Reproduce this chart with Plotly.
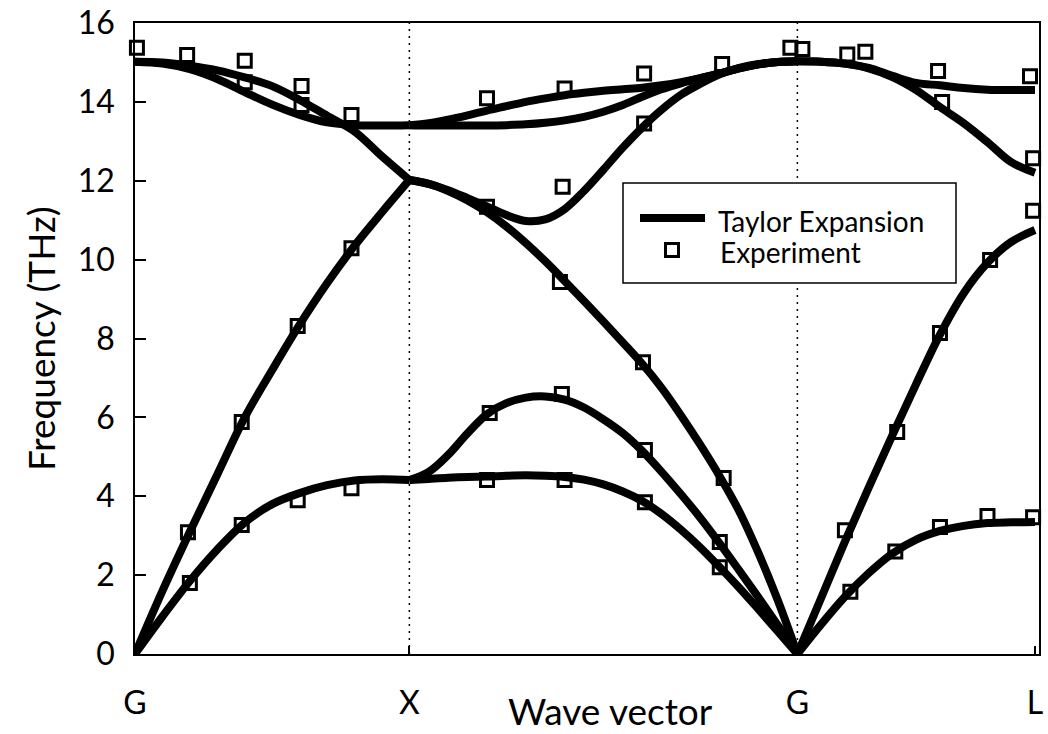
import numpy as np
import plotly.graph_objects as go

# ---------------- data ----------------
sym_labels = ["G", "X", "G", "L"]
seg_len = [1.0, 2 ** 0.5, 3 ** 0.5 / 2]          # path lengths of G-X, X-G, G-L
sym_pos = np.concatenate([[0.0], np.cumsum(seg_len)])

# Taylor expansion curves (fraction along each segment, frequency THz)
frac_gx = [0, .1, .2, .3, .4, .5, .6, .7, .8, .9, 1.0]
gx_ta = [0, 0.95, 1.85, 2.65, 3.33, 3.8, 4.08, 4.28, 4.4, 4.43, 4.41]
gx_la = [0, 1.6, 3.1, 4.55, 6.0, 7.2, 8.35, 9.4, 10.35, 11.2, 12.02]
gx_to = [15.02, 14.97, 14.83, 14.58, 14.25, 13.93, 13.67, 13.48, 13.41, 13.4, 13.41]
gx_lo = [15.02, 15.0, 14.92, 14.8, 14.62, 14.4, 14.05, 13.65, 13.25, 12.62, 12.02]

frac_xg = [0, .05, .1, .15, .2, .25, .3, .35, .4, .45, .5, .55, .6, .65, .7, .75, .8, .85, .9, .95, 1.0]
xg_a = [4.41, 4.44, 4.47, 4.49, 4.5, 4.52, 4.53, 4.52, 4.49, 4.42, 4.3, 4.12, 3.88, 3.55, 3.15, 2.7, 2.2, 1.68, 1.13, 0.57, 0]
xg_b = [4.41, 4.62, 5.05, 5.6, 6.08, 6.36, 6.5, 6.53, 6.45, 6.25, 5.95, 5.6, 5.15, 4.62, 4.05, 3.45, 2.8, 2.12, 1.43, 0.72, 0]
xg_c = [12.02, 11.92, 11.74, 11.5, 11.2, 10.84, 10.42, 9.96, 9.46, 8.95, 8.43, 7.9, 7.36, 6.75, 6.05, 5.3, 4.5, 3.62, 2.55, 1.35, 0]
xg_d = [12.02, 11.92, 11.76, 11.56, 11.35, 11.13, 10.98, 11.02, 11.28, 11.74, 12.28, 12.84, 13.35, 13.8, 14.18, 14.46, 14.7, 14.86, 14.96, 15.01, 15.03]
xg_e1 = [13.41, 13.46, 13.55, 13.66, 13.78, 13.89, 14.0, 14.09, 14.17, 14.23, 14.28, 14.32, 14.36, 14.42, 14.5, 14.6, 14.72, 14.85, 14.95, 15.01, 15.03]
xg_e2 = [13.41, 13.4, 13.4, 13.4, 13.4, 13.41, 13.43, 13.47, 13.53, 13.62, 13.75, 13.92, 14.13, 14.32, 14.47, 14.6, 14.72, 14.85, 14.95, 15.01, 15.03]

frac_gl = [0, .1, .2, .3, .4, .5, .6, .7, .8, .9, 1.0]
gl_ta = [0, 0.75, 1.45, 2.05, 2.55, 2.9, 3.12, 3.25, 3.32, 3.34, 3.35]
gl_la = [0, 1.42, 2.85, 4.22, 5.55, 6.85, 8.1, 9.15, 9.92, 10.45, 10.75]
gl_to = [15.03, 15.02, 14.97, 14.86, 14.66, 14.48, 14.42, 14.35, 14.31, 14.3, 14.3]
gl_lo = [15.03, 15.02, 14.97, 14.85, 14.63, 14.3, 13.87, 13.46, 12.98, 12.47, 12.2]

# Experiment (fraction along segment, frequency THz)
exp_gx_frac = [0.007, 0.19, 0.4, 0.4, 0.607, 0.607, 0.789, 0.789, 0.593, 0.389, 0.193, 0.2, 0.389, 0.593, 0.789]
exp_gx_freq = [15.37, 15.19, 15.04, 14.5, 14.4, 13.92, 13.67, 10.29, 8.32, 5.88, 3.09, 1.8, 3.27, 3.9, 4.2]
exp_xg_frac = [0.2, 0.2, 0.207, 0.2, 0.4, 0.395, 0.388, 0.393, 0.4, 0.605, 0.605, 0.602, 0.607, 0.607, 0.806, 0.81, 0.8, 0.8, 0.982]
exp_xg_freq = [14.09, 11.34, 6.11, 4.41, 14.34, 11.85, 9.43, 6.59, 4.41, 14.72, 13.45, 7.4, 5.17, 3.85, 14.96, 4.46, 2.84, 2.2, 15.37]
exp_gl_frac = [0.021, 0.21, 0.286, 0.592, 0.609, 0.979, 0.992, 0.992, 0.811, 0.6, 0.42, 0.2, 0.223, 0.412, 0.6, 0.8, 0.992]
exp_gl_freq = [15.34, 15.2, 15.27, 14.78, 14.0, 14.65, 12.57, 11.24, 9.99, 8.14, 5.63, 3.14, 1.58, 2.6, 3.22, 3.5, 3.47]


def path(seg, frac):
    return sym_pos[seg] + np.asarray(frac, dtype=float) * seg_len[seg]


FONT = "Lato, 'Open Sans', sans-serif"
fig = go.Figure()

# experiment markers (drawn first, curves on top)
exp_x = np.concatenate([path(0, exp_gx_frac), path(1, exp_xg_frac), path(2, exp_gl_frac)])
exp_y = exp_gx_freq + exp_xg_freq + exp_gl_freq
fig.add_trace(go.Scatter(
    x=exp_x, y=exp_y, mode="markers", name="Experiment", showlegend=False,
    cliponaxis=False,
    marker=dict(symbol="square-open", size=13, color="black", line=dict(width=3, color="black")),
))

curves = [(0, frac_gx, b) for b in (gx_ta, gx_la, gx_to, gx_lo)] + \
         [(1, frac_xg, b) for b in (xg_a, xg_b, xg_c, xg_d, xg_e1, xg_e2)] + \
         [(2, frac_gl, b) for b in (gl_ta, gl_la, gl_to, gl_lo)]
for seg, fr, band in curves:
    fig.add_trace(go.Scatter(
        x=path(seg, fr), y=band, mode="lines", name="Taylor Expansion", showlegend=False,
        line=dict(color="black", width=8, shape="spline", smoothing=1.0),
    ))

# paper-coordinate helpers for layout decorations
L, R, T, B = 135, 9, 23, 80
W, H = 1048, 734
PW, PH = W - L - R, H - T - B
px = lambda x: (x - L) / PW
py = lambda y: (H - B - y) / PH

shapes = []
for p in sym_pos[1:3]:
    shapes.append(dict(type="line", xref="x", yref="paper", x0=p, x1=p, y0=0, y1=1,
                       line=dict(color="black", width=1.5, dash="2px,5px"), layer="below"))
# legend box
shapes.append(dict(type="rect", xref="paper", yref="paper", x0=px(623), x1=px(956), y0=py(283), y1=py(183),
                   line=dict(color="black", width=1.5), fillcolor="white", layer="above"))
shapes.append(dict(type="line", xref="paper", yref="paper", x0=px(640), x1=px(705), y0=py(218), y1=py(218),
                   line=dict(color="black", width=8), layer="above"))
shapes.append(dict(type="rect", xref="paper", yref="paper", xsizemode="pixel", ysizemode="pixel",
                   xanchor=px(672), yanchor=py(250), x0=-6.5, x1=6.5, y0=-6.5, y1=6.5,
                   line=dict(color="black", width=3), layer="above"))

annotations = [
    dict(text="Taylor Expansion", xref="paper", yref="paper", x=px(716), y=py(221), xanchor="left",
         yanchor="middle", showarrow=False, font=dict(family=FONT, size=28, color="black")),
    dict(text="Experiment", xref="paper", yref="paper", x=px(718), y=py(252), xanchor="left",
         yanchor="middle", showarrow=False, font=dict(family=FONT, size=28, color="black")),
    dict(text="Wave vector", xref="paper", yref="paper", x=px(610), y=py(710), xanchor="center",
         yanchor="middle", showarrow=False, font=dict(family=FONT, size=37, color="black")),
    dict(text="Frequency (THz)", xref="paper", yref="paper", x=px(40), y=py(339), xanchor="center",
         yanchor="middle", textangle=-90, showarrow=False, font=dict(family=FONT, size=37, color="black")),
]

fig.update_layout(
    width=W, height=H, margin=dict(l=L, r=R, t=T, b=B),
    paper_bgcolor="white", plot_bgcolor="white", showlegend=False,
    shapes=shapes, annotations=annotations,
    font=dict(family=FONT, color="black"),
    xaxis=dict(range=[0, 3.2948], tickmode="array", tickvals=sym_pos, ticktext=sym_labels,
               ticks="inside", ticklen=8, tickwidth=1.5, tickcolor="black",
               showline=True, linecolor="black", linewidth=1.5, mirror=True,
               showgrid=False, zeroline=False, automargin=False,
               tickfont=dict(family=FONT, size=32, color="black"), ticklabelstandoff=20),
    yaxis=dict(range=[0, 16], tickmode="array", tickvals=list(range(0, 17, 2)),
               ticks="inside", ticklen=11, tickwidth=1.5, tickcolor="black",
               showline=True, linecolor="black", linewidth=1.5, mirror=True,
               showgrid=False, zeroline=False, automargin=False,
               tickfont=dict(family=FONT, size=32, color="black"), ticklabelstandoff=12),
)

fig.write_html("out.html")
